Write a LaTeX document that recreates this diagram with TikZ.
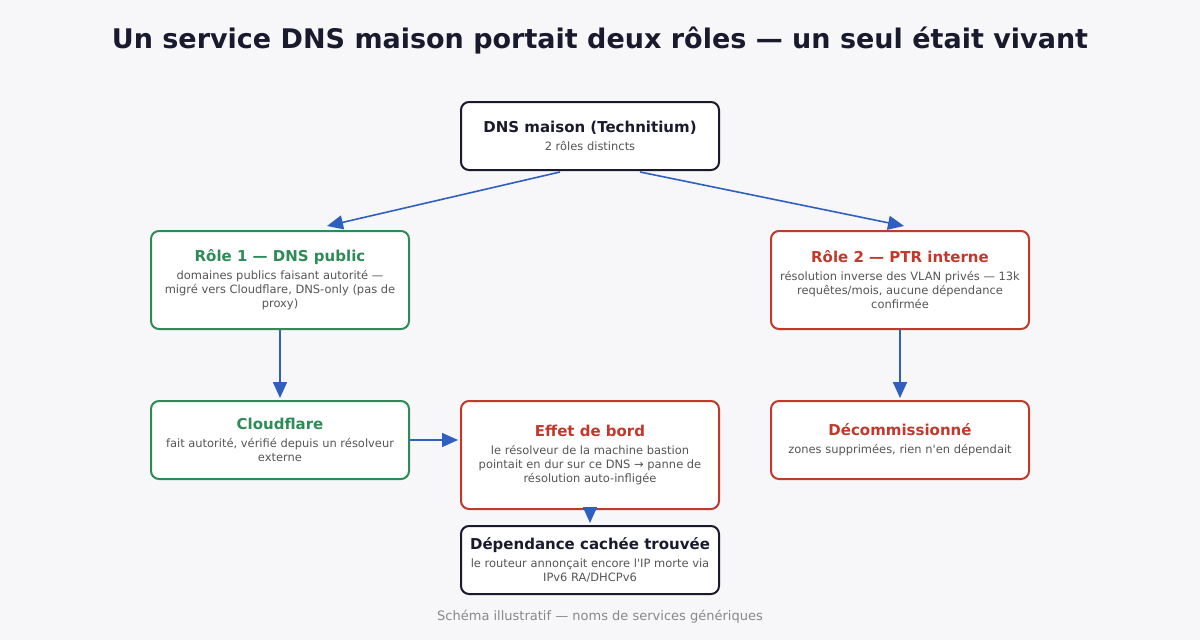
\documentclass[tikz,border=0pt]{standalone}
\usepackage{fontspec}
\setmainfont{DejaVu Sans}[Ligatures=TeXOff]
\usetikzlibrary{arrows.meta,calc}
\definecolor{bg}{HTML}{F7F7F9}
\definecolor{ink}{HTML}{1A1A2E}
\definecolor{grn}{HTML}{2E8B57}
\definecolor{rd}{HTML}{C0392B}
\definecolor{blu}{HTML}{2F5FBF}
\definecolor{sub}{HTML}{555555}
\definecolor{foot}{HTML}{888888}
\newcommand{\subf}{\fontsize{8.6}{10.5}\selectfont}
\newcommand{\ttlf}{\fontsize{11.25}{14}\selectfont\bfseries}
\tikzset{
  box/.style={draw, rounded corners=6pt, fill=white, line width=1.5pt,
    minimum width=193.5pt, align=center, inner sep=0pt, font=\subf, text=sub},
  conn/.style={draw=blu, line width=1.2pt, -{Triangle[length=12pt,width=10.5pt]}},
}
\begin{document}
\begin{tikzpicture}[x=0.75pt,y=-0.75pt]
\useasboundingbox[fill=bg] (0,0) rectangle (1200,640);
\node[font=\fontsize{20.25}{24}\selectfont\bfseries, text=ink] (title) at (600,41) {Un service DNS maison portait deux rôles — un seul était vivant};
\node[box, draw=ink, minimum height=51pt] (top) at (590,136)
  {{\ttlf\color{ink}DNS maison (Technitium)}\\[3pt]2 rôles distincts};
\node[box, draw=grn, minimum height=73.5pt] (r1) at (280,280)
  {{\ttlf\color{grn}Rôle 1 — DNS public}\\[3pt]domaines publics faisant autorité —\\migré vers Cloudflare, DNS-only (pas de\\proxy)};
\node[box, draw=rd, minimum height=73.5pt] (r2) at (900,280)
  {{\ttlf\color{rd}Rôle 2 — PTR interne}\\[3pt]résolution inverse des VLAN privés — 13k\\requêtes/mois, aucune dépendance\\confirmée};
\node[box, draw=grn, minimum height=58.5pt] (cf) at (280,440)
  {{\ttlf\color{grn}Cloudflare}\\[3pt]fait autorité, vérifié depuis un résolveur\\externe};
\node[box, draw=rd, minimum height=81pt] (ef) at (590,455)
  {{\ttlf\color{rd}Effet de bord}\\[3pt]le résolveur de la machine bastion\\pointait en dur sur ce DNS → panne de\\résolution auto-infligée};
\node[box, draw=rd, minimum height=58.5pt] (dc) at (900,440)
  {{\ttlf\color{rd}Décommissionné}\\[3pt]zones supprimées, rien n'en dépendait};
\node[box, draw=ink, minimum height=51pt] (dep) at (590,560)
  {{\ttlf\color{ink}Dépendance cachée trouvée}\\[3pt]le routeur annonçait encore l'IP morte via\\IPv6 RA/DHCPv6};
\node[font=\fontsize{9.75}{12}\selectfont, text=foot] (foot) at (600,617) {Schéma illustratif — noms de services génériques};
\draw[conn] ($(top.south)+(-30,1)$) -- ($(r1.north)+(47,-4)$);
\draw[conn] ($(top.south)+(50,1)$) -- ($(r2.north)+(4,-4)$);
\draw[conn] (r1.south) -- ($(cf.north)+(0,-2)$);
\draw[conn] (r2.south) -- ($(dc.north)+(0,-2)$);
\draw[conn] (cf.east) -- ($(ef.west)+(-2,-15)$);
\draw[conn] (ef.south) -- ($(dep.north)+(0,-2)$);
\end{tikzpicture}
\end{document}
